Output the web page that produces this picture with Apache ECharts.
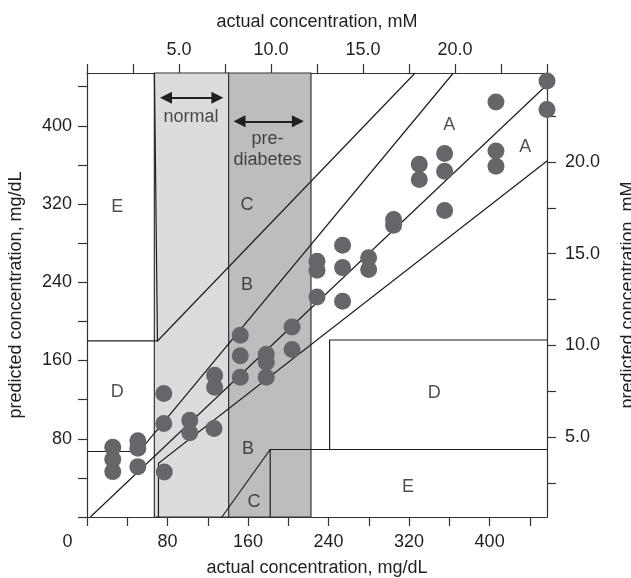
<!DOCTYPE html>
<html>
<head>
<meta charset="utf-8">
<script src="https://cdn.jsdelivr.net/npm/echarts@6/dist/echarts.min.js"></script>
<style>
  html, body { margin: 0; padding: 0; background: #fff; }
  #chart { width: 631px; height: 578px; }
</style>
</head>
<body>
<div id="chart"></div>
<script>
// readings: [actual mg/dL, predicted mg/dL]
const points = [
  [25.6, 71.3], [25.6, 59.0], [25.6, 46.4],
  [50.5, 77.9], [50.5, 70.2], [50.5, 51.5],
  [76.3, 126.2], [76.3, 95.5], [76.8, 46.0],
  [102.1, 98.9], [102.1, 86.1],
  [126.2, 90.4], [126.8, 144.9], [126.8, 132.6],
  [152.3, 185.8], [152.3, 164.8], [152.3, 142.8],
  [178.1, 166.4], [178.1, 158.2], [178.1, 142.8],
  [203.7, 194.3], [203.7, 171.2],
  [228.5, 261.5], [228.5, 252.3], [228.5, 225.0],
  [253.9, 277.8], [253.9, 255.0], [253.9, 220.6],
  [279.8, 265.0], [279.8, 253.0],
  [304.6, 304.1], [304.6, 298.3],
  [330.1, 360.6], [330.1, 345.0],
  [355.3, 371.6], [355.3, 353.5], [355.3, 313.3],
  [406.3, 424.3], [406.3, 374.2], [406.3, 358.6],
  [457, 445.8], [457, 416.6]
];

// error grid boundaries (mg/dL)
const zoneLines = [
  [[3.3, 0], [457, 442]],
  [[0, 67], [52, 67], [364, 454]],
  [[71, 0], [71, 55], [457, 364]],
  [[0, 180], [70, 180], [67, 454]],
  [[70, 180], [326, 454]],
  [[134, 0], [182, 69]],
  [[182, 0], [182, 69], [457, 69]],
  [[241, 69], [241, 181], [457, 181]]
];

const zoneLabels = [
  ['E', 30, 316.5], ['C', 159, 319.5], ['B', 159, 237],
  ['A', 360, 401], ['A', 435.5, 378],
  ['D', 30, 127.5], ['D', 345, 126.5],
  ['B', 160, 70], ['C', 166, 15], ['E', 319, 30.5]
];

const normalBand = [66.9, 140.7];
const prediabetesBand = [140.7, 222.5];
const normalArrow = [[78.5, 428.8], [129.5, 428.8]];
const prediabetesArrow = [[151.5, 404.6], [209.5, 404.6]];
const bandLabels = [['normal', 103.3, 409], ['pre-\ndiabetes', 179.4, 375.3]];

const mgTicks = [0, 40, 80, 120, 160, 200, 240, 280, 320, 360, 400, 440];
const mgLabels = [0, 80, 160, 240, 320, 400];
const mgLabelsLeft = [80, 160, 240, 320, 400];
const mmTicksRight = [2.5, 5, 7.5, 10, 12.5, 15, 17.5, 20, 22.5];
const mmLabels = [5, 10, 15, 20];

const font = 'Liberation Sans, Arial, Helvetica, sans-serif';
const ink = '#231f20';
const fs = 18;

const axisCommon = {
  type: 'value',
  splitLine: { show: false },
  axisLine: { show: true, onZero: false, lineStyle: { color: '#333', width: 1.2 } },
  axisTick: { show: true, length: 9, lineStyle: { color: '#333', width: 1.2 } },
  nameLocation: 'middle',
  nameTextStyle: { fontFamily: font, fontSize: fs, color: ink },
};

const myChart = echarts.init(document.getElementById('chart'));
const option = {
  animation: false,
  backgroundColor: '#fff',
  grid: { left: 87, top: 73, width: 460, height: 444, containLabel: false, outerBoundsMode: 'none' },
  xAxis: [
    Object.assign({}, axisCommon, {
      position: 'bottom', min: 0, max: 457,
      name: 'actual concentration, mg/dL', nameGap: 42,
      axisTick: Object.assign({}, axisCommon.axisTick, { customValues: mgTicks }),
      axisLabel: {
        customValues: mgLabels, margin: 16,
        fontFamily: font, fontSize: fs, color: ink,
        formatter: v => v === 0 ? '{z|0}' : String(v),
        rich: { z: { fontFamily: font, fontSize: fs, color: ink, padding: [0, 39, 0, 0] } }
      }
    }),
    Object.assign({}, axisCommon, {
      position: 'top', min: 0, max: 25, interval: 2.5,
      name: 'actual concentration, mM', nameGap: 42,
      axisLabel: {
        customValues: mmLabels, margin: 14,
        fontFamily: font, fontSize: fs, color: ink,
        formatter: v => v.toFixed(1)
      }
    })
  ],
  yAxis: [
    Object.assign({}, axisCommon, {
      position: 'left', min: 0, max: 454,
      name: 'predicted concentration, mg/dL', nameGap: 62, nameRotate: 90,
      axisTick: Object.assign({}, axisCommon.axisTick, { customValues: mgTicks }),
      axisLabel: {
        customValues: mgLabelsLeft, margin: 15,
        fontFamily: font, fontSize: fs, color: ink
      }
    }),
    Object.assign({}, axisCommon, {
      position: 'right', min: 0.65, max: 24.85,
      name: 'predicted concentration, mM', nameGap: 72, nameRotate: 90,
      axisTick: Object.assign({}, axisCommon.axisTick, { customValues: mmTicksRight }),
      axisLabel: {
        customValues: mmLabels, margin: 18,
        fontFamily: font, fontSize: fs, color: ink,
        formatter: v => v.toFixed(1)
      }
    })
  ],
  series: [
    {
      // shaded glucose ranges
      type: 'line', data: [], z: 1, silent: true,
      markArea: {
        silent: true,
        itemStyle: { borderColor: '#333', borderWidth: 1.2 },
        data: [
          [{ xAxis: normalBand[0], itemStyle: { color: '#dcdcde' } }, { xAxis: normalBand[1] }],
          [{ xAxis: prediabetesBand[0], itemStyle: { color: '#bdbdc0' } }, { xAxis: prediabetesBand[1] }]
        ]
      }
    },
    {
      type: 'lines', coordinateSystem: 'cartesian2d', polyline: true, z: 2, silent: true,
      lineStyle: { color: '#1e1e1e', width: 1.2, opacity: 1 },
      data: zoneLines.map(c => ({ coords: c }))
    },
    {
      type: 'lines', coordinateSystem: 'cartesian2d', z: 4, silent: true,
      symbol: ['triangle', 'triangle'], symbolSize: 12,
      lineStyle: { color: ink, width: 2, opacity: 1 },
      itemStyle: { color: ink },
      data: [{ coords: normalArrow }, { coords: prediabetesArrow }]
    },
    {
      type: 'scatter', z: 3, symbolSize: 17, clip: false,
      itemStyle: { color: '#66666a', opacity: 1 },
      data: points
    },
    {
      type: 'scatter', z: 5, symbolSize: 0, silent: true,
      label: {
        show: true, position: 'inside', formatter: '{b}',
        fontFamily: font, fontSize: fs, color: ink, lineHeight: 21
      },
      data: zoneLabels.concat(bandLabels).map(d => ({ name: d[0], value: [d[1], d[2]] }))
    }
  ]
};
myChart.setOption(option);
</script>
</body>
</html>
